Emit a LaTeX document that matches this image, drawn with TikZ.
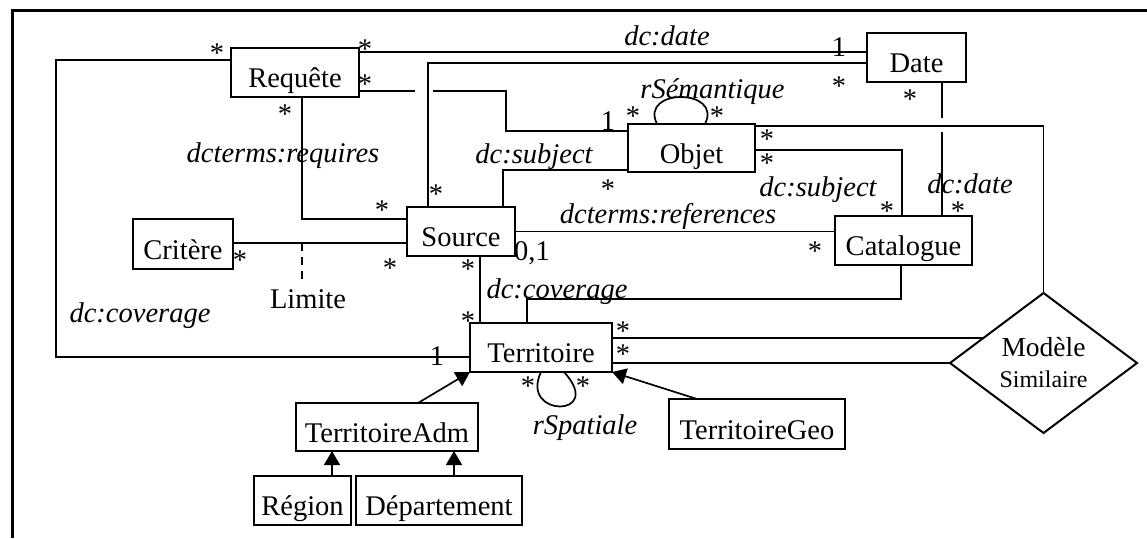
\documentclass[tikz,border=0pt]{standalone}
\usepackage{fontspec}
\setmainfont{Liberation Serif}
\usetikzlibrary{arrows.meta,shapes.geometric}
\begin{document}
\begin{tikzpicture}[x=1pt,y=-1pt,
  every node/.style={font=\fontsize{28.5}{31}\selectfont},
  cls/.style={draw, line width=2.2pt, inner sep=0pt, outer sep=0pt, text height=30pt, text depth=0pt},
  conn/.style={line width=1.7pt},
  lbl/.style={anchor=base, inner sep=0pt, font=\fontsize{28.5}{31}\selectfont\itshape},
  mult/.style={anchor=base, inner sep=0pt},
  star/.style={inner sep=0pt, text height=21pt, text depth=-7pt},
  gen/.style={line width=1.7pt, -{Triangle[length=14pt,width=16pt]}},
]
\useasboundingbox (0,0) rectangle (1147,538);
% frame
\draw[line width=3pt] (12,538) -- (12,10) -- (1147,10);

% classes
\node[cls, minimum width=128pt, minimum height=49pt] (Req) at (295,72.5) {Requête};
\node[cls, minimum width=99pt, minimum height=49pt] (Date) at (916.5,57.5) {Date};
\node[cls, minimum width=127pt, minimum height=48pt] (Obj) at (691.5,148) {Objet};
\node[cls, minimum width=108pt, minimum height=49pt] (Src) at (461,231.5) {Source};
\node[cls, minimum width=100pt, minimum height=50pt] (Crit) at (183,244) {Critère};
\node[cls, minimum width=137pt, minimum height=49pt] (Cat) at (903.5,240.5) {Catalogue};
\node[cls, minimum width=142pt, minimum height=49pt] (Terr) at (541,347.5) {Territoire};
\node[cls, minimum width=182pt, minimum height=48pt] (TAdm) at (387,427) {TerritoireAdm};
\node[cls, minimum width=97pt, minimum height=49pt] (Reg) at (302.5,500.5) {Région};
\node[cls, minimum width=166pt, minimum height=49pt] (Dep) at (439,500.5) {Département};
\node[cls, minimum width=176pt, minimum height=50pt] (TGeo) at (757,424) {TerritoireGeo};
\node[draw, diamond, aspect=1.336, line width=2pt, inner sep=0pt, outer sep=0pt,
      minimum width=187pt, minimum height=140pt, align=center,
      font=\fontsize{27.5}{31}\selectfont] (Mod) at (1043.5,363)
      {Modèle\\{\fontsize{24}{26}\selectfont Similaire}};

% associations
\draw[conn] ([yshift=12.5pt]Req.west) -- ++(-175,0) |- ([yshift=-9.5pt]Terr.west);
\draw[conn] ([yshift=20.5pt]Req.east) -- ([yshift=5.5pt]Date.west);
\draw[conn] ([yshift=-18.5pt]Req.east) -- ++(56,0) ++(18,0) -- ++(73,0) |- ([yshift=17pt]Obj.west);
\draw[conn] ([xshift=-33pt]Src.north) |- ([yshift=-5.5pt]Date.west);
\draw[conn] ([xshift=7pt]Req.south) |- ([yshift=12.5pt]Src.west);
\coordinate (cs) at ([yshift=-11.5pt]Src.west);
\draw[conn] (cs) -- (cs -| Crit.east);
\coordinate (lt) at (302,243);
\node[mult] (Lim) at (308,308) {Limite};
\draw[conn, dash pattern=on 8pt off 6pt] (lt) -- (lt |- 0,279);
\draw[conn] ([xshift=42pt]Src.north) |- ([yshift=-22pt]Obj.west);
\draw[conn] (Src.east) -- (Src.east -| Cat.west);
\draw[conn] ([yshift=-2pt]Obj.east) -| ([xshift=-1.5pt]Cat.north);
\draw[conn] ([yshift=22pt]Obj.east) -| (Mod.north);
\draw[conn] ([xshift=25.5pt]Date.south) -- ++(0,36) ++(0,14) -- ([xshift=38.5pt]Cat.north);
\draw[conn] ([xshift=-2.5pt]Cat.south) -- ++(0,34) -| ([xshift=-14pt]Terr.north);
\draw[conn] ([xshift=19pt]Src.south) -- ([xshift=-61pt]Terr.north);
\draw[conn] (Mod.157) -- (Mod.157 -| Terr.east);
\draw[conn] (Mod.west) -- (Mod.west -| Terr.east);

% self loops
\draw[conn] ([xshift=-34.5pt]Obj.north) .. controls +(-18,-36) and +(18,-36) .. ([xshift=13.5pt]Obj.north);
\draw[conn] ([xshift=0pt]Terr.south) .. controls +(-22,46) and +(42,46) .. ([xshift=23pt]Terr.south);

% generalisations
\draw[gen] ([xshift=31pt]TAdm.north) -- (Terr.south west);
\draw[gen] ([xshift=-60pt]TGeo.north) -- (Terr.south east);
\draw[gen] ([xshift=29.5pt]Reg.north) -- ([xshift=-55pt]TAdm.south);
\draw[gen] ([xshift=15pt]Dep.north) -- ([xshift=67pt]TAdm.south);

% role labels
\node[lbl] (l1) at (667,45) {dc:date};
\node[lbl] (l2) at (712.5,98) {rSémantique};
\node[lbl] (l3) at (283,162) {dcterms:requires};
\node[lbl] (l4) at (534,163) {dc:subject};
\node[lbl] (l5) at (818,196) {dc:subject};
\node[lbl] (l6) at (970,193) {dc:date};
\node[lbl] (l7) at (668,223) {dcterms:references};
\node[lbl] (l8) at (557,298) {dc:coverage};
\node[lbl] (l9) at (140,322) {dc:coverage};
\node[lbl] (l10) at (585,434) {rSpatiale};

% multiplicities
\node[mult] (n1) at (839,56) {1};
\node[mult] (n2) at (608,130) {1};
\node[mult] (n3) at (437,365) {1};
\node[mult] (n4) at (532,260) {0,1};
\node[star] (s1) at (217,52) {*};
\node[star] (s2) at (365,48) {*};
\node[star] (s3) at (365,83) {*};
\node[star] (s4) at (285,113) {*};
\node[star] (s5) at (633,115) {*};
\node[star] (s6) at (717,115) {*};
\node[star] (s7) at (839,85) {*};
\node[star] (s8) at (910,98) {*};
\node[star] (s9) at (767,138) {*};
\node[star] (s10) at (767,162) {*};
\node[star] (s11) at (436,193) {*};
\node[star] (s12) at (608,188) {*};
\node[star] (s13) at (382,209) {*};
\node[star] (s14) at (887,210) {*};
\node[star] (s15) at (958,210) {*};
\node[star] (s16) at (240,259) {*};
\node[star] (s17) at (390,267) {*};
\node[star] (s18) at (468,268) {*};
\node[star] (s19) at (815,250) {*};
\node[star] (s20) at (468,320) {*};
\node[star] (s21) at (623,330) {*};
\node[star] (s22) at (623,353) {*};
\node[star] (s23) at (528,385) {*};
\node[star] (s24) at (583,385) {*};
\end{tikzpicture}
\end{document}
